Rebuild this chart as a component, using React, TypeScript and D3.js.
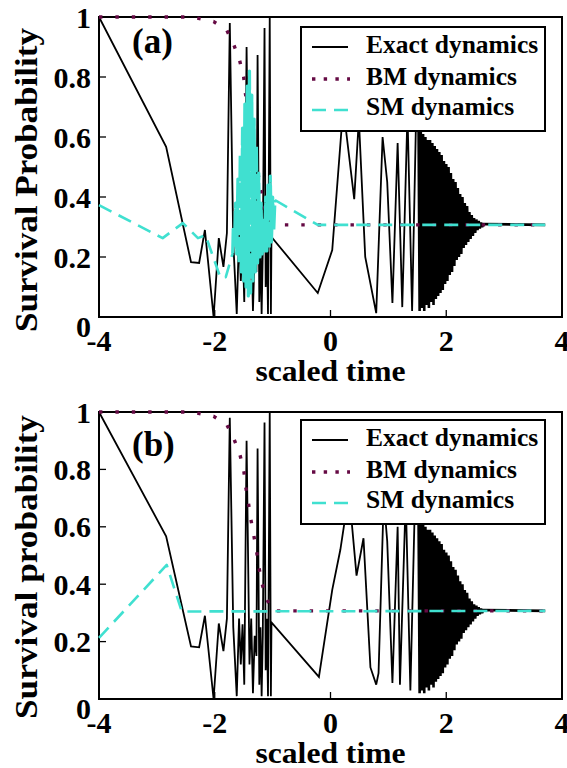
import React, { useEffect } from 'react';
import * as d3 from 'd3';

type Pt = [number, number];

const xTicks = [-4, -2, 0, 2, 4];
const xTickLabels = ['-4', '-2', '0', '2', '4'];
const yTicks = [0, 0.2, 0.4, 0.6, 0.8, 1];
const yTickLabels = ['0', '0.2', '0.4', '0.6', '0.8', '1'];
const legendLabels = ['Exact dynamics', 'BM dynamics', 'SM dynamics'];
const panelLabels = ['(a)', '(b)'];
const yTitles = ['Survival Probability', 'Survival probability'];
const xTitle = 'scaled time';

// Exact dynamics: shared head (t = -4 .. -1)
const exactHead: Pt[] = [
  [-4, 1.0], [-2.84, 0.567], [-2.41, 0.183], [-2.27, 0.18], [-2.17, 0.29],
  [-2.02, 0.0], [-1.93, 0.263], [-1.85, 0.167], [-1.79, 0.28], [-1.74, 0.98],
  [-1.68, 0.25], [-1.62, 0.01], [-1.58, 0.28], [-1.55, 0.12], [-1.52, 0.26],
  [-1.49, 0.05], [-1.45, 0.9], [-1.4, 0.12], [-1.37, 0.28], [-1.34, 0.02],
  [-1.31, 0.22], [-1.28, 0.15], [-1.26, 0.873], [-1.23, 0.05], [-1.21, 0.25],
  [-1.19, 0.01], [-1.17, 0.22], [-1.14, 0.963], [-1.12, 0.1], [-1.1, 0.28],
  [-1.08, 0.01], [-1.05, 1.0], [-1.03, 0.01], [-1.02, 0.267],
];
// Exact dynamics: panel (a) middle part
const exactMidA: Pt[] = [
  [-0.22, 0.08], [0.03, 0.223], [0.22, 0.7], [0.41, 0.393], [0.49, 0.66],
  [0.6, 0.2], [0.79, 0.013], [0.9, 0.6], [0.98, 0.45], [1.07, 0.047],
  [1.16, 0.58], [1.24, 0.033], [1.33, 0.68], [1.41, 0.02], [1.48, 0.68],
];
// Exact dynamics: panel (b) middle part
const exactMidB: Pt[] = [
  [-0.2, 0.077], [0.03, 0.38], [0.17, 0.52], [0.32, 0.72], [0.45, 0.43],
  [0.57, 0.56], [0.69, 0.11], [0.79, 0.05], [0.83, 0.09], [0.92, 0.7],
  [0.98, 0.55], [1.07, 0.056], [1.16, 0.6], [1.2, 0.05], [1.3, 0.7],
  [1.38, 0.03], [1.46, 0.7],
];
// Exact dynamics: shared dense tail
const exactTail: Pt[] = [
  [1.48, 0.68], [1.52, 0.68], [1.54, 0.02], [1.56, 0.62], [1.58, 0.03], [1.6, 0.61],
  [1.62, 0.02], [1.64, 0.6], [1.66, 0.04], [1.68, 0.59], [1.7, 0.03],
  [1.72, 0.59], [1.74, 0.05], [1.76, 0.58], [1.78, 0.04], [1.8, 0.57],
  [1.82, 0.06], [1.84, 0.56], [1.86, 0.07], [1.88, 0.55], [1.9, 0.08],
  [1.92, 0.54], [1.94, 0.09], [1.96, 0.52], [1.98, 0.11], [2.0, 0.51],
  [2.02, 0.12], [2.04, 0.5], [2.06, 0.14], [2.08, 0.48], [2.1, 0.15],
  [2.12, 0.46], [2.14, 0.17], [2.16, 0.45], [2.18, 0.19], [2.2, 0.43],
  [2.22, 0.2], [2.24, 0.41], [2.26, 0.21], [2.28, 0.4], [2.3, 0.23],
  [2.32, 0.38], [2.34, 0.24], [2.36, 0.37], [2.38, 0.25], [2.4, 0.35],
  [2.42, 0.26], [2.44, 0.34], [2.46, 0.27], [2.48, 0.33], [2.5, 0.28],
  [2.52, 0.325], [2.54, 0.29], [2.56, 0.32], [2.58, 0.295], [2.6, 0.315],
  [2.62, 0.3], [2.64, 0.31], [3.71, 0.307],
];

// BM dynamics (same in both panels)
const bmCurve: Pt[] = [
  [-4, 1.0], [-2.4, 1.0], [-2.02, 0.985], [-1.79, 0.955], [-1.67, 0.907],
  [-1.57, 0.855], [-1.5, 0.8], [-1.47, 0.745], [-1.42, 0.686], [-1.38, 0.63],
  [-1.33, 0.575], [-1.28, 0.519], [-1.24, 0.463], [-1.19, 0.408], [-1.12, 0.355],
  [-1.0, 0.307], [3.71, 0.307],
];

// SM dynamics, panel (a)
const smHeadA: Pt[] = [
  [-4, 0.373], [-2.9, 0.263], [-2.55, 0.313], [-2.29, 0.263], [-2.16, 0.273],
  [-1.9, 0.13], [-1.81, 0.133], [-1.69, 0.213],
];
const smBurstA: Pt[] = [
  [-1.69, 0.213], [-1.68, 0.3], [-1.66, 0.24], [-1.64, 0.38], [-1.62, 0.21], [-1.6, 0.46],
  [-1.58, 0.18], [-1.56, 0.54], [-1.54, 0.15], [-1.52, 0.63], [-1.5, 0.12],
  [-1.48, 0.71], [-1.46, 0.1], [-1.44, 0.77], [-1.42, 0.07], [-1.4, 0.82],
  [-1.38, 0.08], [-1.36, 0.74], [-1.34, 0.12], [-1.32, 0.66], [-1.3, 0.15],
  [-1.28, 0.57], [-1.26, 0.18], [-1.24, 0.48], [-1.22, 0.2], [-1.2, 0.38],
  [-1.18, 0.21], [-1.16, 0.33], [-1.14, 0.22], [-1.12, 0.4], [-1.1, 0.22],
  [-1.08, 0.44], [-1.06, 0.23], [-1.04, 0.47], [-1.02, 0.25], [-1.0, 0.4],
  [-0.98, 0.29], [-0.96, 0.39],
];
const smTailA: Pt[] = [[-0.96, 0.39], [-0.22, 0.307], [3.71, 0.307]];
// SM dynamics, panel (b)
const smB: Pt[] = [[-4, 0.213], [-2.83, 0.467], [-2.57, 0.305], [3.71, 0.307]];

const exactA = [...exactHead, ...exactMidA];
const exactB = [...exactHead, ...exactMidB];

const BM_COLOR = '#650a44';
const SM_COLOR = '#40e0d0';
const FONT = "'Liberation Serif', 'Times New Roman', serif";

interface PanelSpec {
  top: number;
  bottom: number;
  exact: Pt[];
  sm: Pt[][];
  label: string;
  labelY: number;
  yTitle: string;
  yTitleCenter: number;
  legendTop: number;
}

const panels: PanelSpec[] = [
  { top: 17, bottom: 317, exact: exactA, sm: [smHeadA, smTailA], label: panelLabels[0], labelY: 53, yTitle: yTitles[0], yTitleCenter: 180, legendTop: 27 },
  { top: 412, bottom: 699, exact: exactB, sm: [smB], label: panelLabels[1], labelY: 456, yTitle: yTitles[1], yTitleCenter: 567, legendTop: 420 },
];

const LEFT = 99;
const RIGHT = 562;

function Panel({ p, idx }: { p: PanelSpec; idx: number }) {
  const x = d3.scaleLinear().domain([-4, 4]).range([LEFT, RIGHT]);
  const y = d3.scaleLinear().domain([0, 1]).range([p.bottom, p.top]);
  const line = d3.line<Pt>().x((d) => x(d[0])).y((d) => y(d[1]));
  const lx0 = 312, lx1 = 348;
  const rowLine = [20, 52, 83];
  const rowText = [26, 58, 88];
  return (
    <g>
      {/* frame */}
      <rect x={LEFT} y={p.top} width={RIGHT - LEFT} height={p.bottom - p.top} fill="none" stroke="#000" strokeWidth={2} />
      {yTicks.map((t, i) => (
        <line key={'yt' + i} x1={LEFT} x2={LEFT + 7} y1={y(t)} y2={y(t)} stroke="#000" strokeWidth={1.3} />
      ))}
      {xTicks.map((t, i) => (
        <line key={'xt' + i} x1={x(t)} x2={x(t)} y1={p.bottom} y2={p.bottom - 7} stroke="#000" strokeWidth={1.3} />
      ))}
      {/* data */}
      <path d={line(p.exact) || ''} fill="none" stroke="#000" strokeWidth={1.8} strokeLinejoin="miter" strokeMiterlimit={3} />
      <path d={line(exactTail) || ''} fill="none" stroke="#000" strokeWidth={2.6} strokeLinejoin="miter" strokeMiterlimit={3} />
      <path d={line(bmCurve) || ''} fill="none" stroke={BM_COLOR} strokeWidth={3.4} strokeDasharray="3.4 13" />
      {p.sm.map((seg, i) => (
        <path key={'sm' + i} d={line(seg) || ''} fill="none" stroke={SM_COLOR} strokeWidth={2.6} strokeDasharray="14 8" strokeLinejoin="round" />
      ))}
      {idx === 0 && (
        <path d={line(smBurstA) || ''} fill="none" stroke={SM_COLOR} strokeWidth={3.2} strokeDasharray="24 3" strokeLinejoin="round" />
      )}
      {/* tick labels */}
      {yTicks.map((t, i) => (
        <text key={'yl' + i} x={91} y={t === 0 ? y(t) + 9 : y(t)} dy="0.35em" textAnchor="end" fontFamily={FONT} fontWeight="bold" fontSize={30}>
          {yTickLabels[i]}
        </text>
      ))}
      {xTicks.map((t, i) => (
        <text key={'xl' + i} x={x(t)} y={p.bottom + 34} textAnchor="middle" fontFamily={FONT} fontWeight="bold" fontSize={30}>
          {xTickLabels[i]}
        </text>
      ))}
      <text x={(LEFT + RIGHT) / 2} y={p.bottom + 64} textAnchor="middle" fontFamily={FONT} fontWeight="bold" fontSize={30} textLength={150} lengthAdjust="spacingAndGlyphs">
        {xTitle}
      </text>
      <text
        transform={`translate(37,${p.yTitleCenter}) rotate(-90)`}
        textAnchor="middle"
        fontFamily={FONT}
        fontWeight="bold"
        fontSize={32}
        textLength={304}
        lengthAdjust="spacingAndGlyphs"
      >
        {p.yTitle}
      </text>
      <text x={132} y={p.labelY} fontFamily={FONT} fontWeight="bold" fontSize={35}>
        {p.label}
      </text>
      {/* legend */}
      <rect x={301} y={p.legendTop} width={244} height={104} fill="#fff" stroke="#000" strokeWidth={2} />
      <line x1={lx0} x2={lx1} y1={p.legendTop + rowLine[0]} y2={p.legendTop + rowLine[0]} stroke="#000" strokeWidth={1.8} />
      <line x1={lx0} x2={lx1 + 2} y1={p.legendTop + rowLine[1]} y2={p.legendTop + rowLine[1]} stroke={BM_COLOR} strokeWidth={3.4} strokeDasharray="3.4 8.3" />
      <line x1={lx0} x2={lx1} y1={p.legendTop + rowLine[2]} y2={p.legendTop + rowLine[2]} stroke={SM_COLOR} strokeWidth={2.6} strokeDasharray="14 8" />
      {legendLabels.map((s, i) => (
        <text key={'lg' + i} x={366} y={p.legendTop + rowText[i]} fontFamily={FONT} fontWeight="bold" fontSize={25.5}>
          {s}
        </text>
      ))}
    </g>
  );
}

export default function App() {
  useEffect(() => {
    document.body.style.margin = '0';
  }, []);
  return (
    <svg width={567} height={768} style={{ position: 'absolute', left: 0, top: 0, background: '#fff' }}>
      <rect x={0} y={0} width={567} height={768} fill="#fff" />
      {panels.map((p, i) => (
        <Panel key={i} p={p} idx={i} />
      ))}
    </svg>
  );
}
